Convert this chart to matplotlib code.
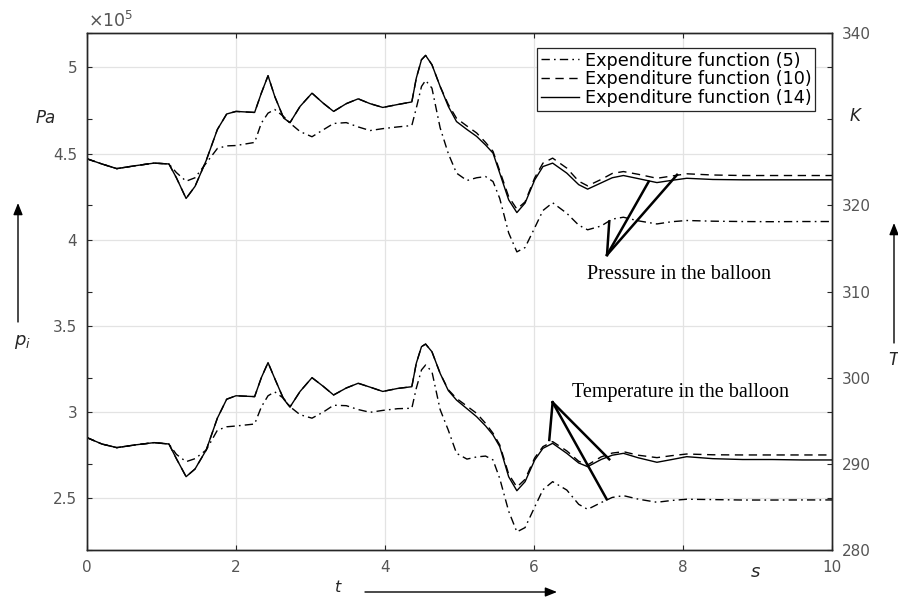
import numpy as np
import matplotlib
matplotlib.use('Agg')
from matplotlib import pyplot as plt

# time, s
t = [0, 0.2, 0.4, 0.65, 0.9, 1.1, 1.2, 1.33, 1.45, 1.6, 1.75, 1.875, 2.0, 2.25,
     2.34, 2.43, 2.52, 2.64, 2.725, 2.86, 3.02, 3.17, 3.31, 3.48, 3.64, 3.8, 3.97,
     4.17, 4.36, 4.42, 4.49, 4.545, 4.63, 4.74, 4.85, 4.96, 5.1, 5.23, 5.35, 5.45,
     5.54, 5.66, 5.77, 5.88, 6.01, 6.12, 6.25, 6.44, 6.6, 6.72, 6.9, 7.05, 7.2,
     7.4, 7.65, 7.85, 8.05, 8.4, 8.8, 9.2, 9.6, 10]

# pressure in the balloon, x1e5 Pa
p5 = [4.47, 4.44, 4.413, 4.43, 4.445, 4.44, 4.39, 4.34, 4.36, 4.445,
      4.53, 4.545, 4.547, 4.565, 4.677, 4.735, 4.756, 4.715, 4.677, 4.628,
      4.598, 4.638, 4.675, 4.68, 4.655, 4.634, 4.645, 4.655, 4.663, 4.764,
      4.89, 4.925, 4.88, 4.65, 4.5, 4.387, 4.344, 4.36, 4.367, 4.338,
      4.24, 4.04, 3.93, 3.955, 4.07, 4.17, 4.215, 4.154, 4.085, 4.058,
      4.08, 4.12, 4.131, 4.11, 4.092, 4.105, 4.112, 4.108, 4.106, 4.105,
      4.106, 4.106]
p10 = [4.47, 4.44, 4.413, 4.43, 4.445, 4.44, 4.36, 4.24, 4.31, 4.46,
       4.64, 4.73, 4.745, 4.739, 4.851, 4.952, 4.832, 4.706, 4.68, 4.774,
       4.851, 4.793, 4.745, 4.79, 4.818, 4.79, 4.768, 4.785, 4.8, 4.938,
       5.045, 5.07, 5.016, 4.89, 4.785, 4.705, 4.66, 4.62, 4.565, 4.513,
       4.4, 4.25, 4.178, 4.22, 4.36, 4.445, 4.474, 4.416, 4.34, 4.313,
       4.35, 4.385, 4.396, 4.38, 4.357, 4.37, 4.383, 4.376, 4.373, 4.373,
       4.373, 4.373]
p14 = [4.47, 4.44, 4.413, 4.43, 4.445, 4.44, 4.36, 4.24, 4.31, 4.46,
       4.64, 4.73, 4.745, 4.739, 4.851, 4.952, 4.832, 4.706, 4.68, 4.774,
       4.851, 4.793, 4.745, 4.79, 4.818, 4.79, 4.768, 4.785, 4.8, 4.938,
       5.045, 5.07, 5.016, 4.89, 4.774, 4.686, 4.64, 4.6, 4.55, 4.503,
       4.387, 4.232, 4.158, 4.213, 4.348, 4.425, 4.445, 4.387, 4.32, 4.294,
       4.33, 4.36, 4.373, 4.355, 4.332, 4.345, 4.357, 4.35, 4.348, 4.348,
       4.348, 4.348]

# temperature in the balloon, K
T5 = [293.04, 292.3, 291.88, 292.2, 292.46, 292.3, 291.1, 290.25, 290.6, 291.6,
      293.9, 294.3, 294.39, 294.62, 296.6, 297.9, 298.35, 297.6, 296.63, 295.7,
      295.3, 296.0, 296.8, 296.75, 296.3, 295.98, 296.2, 296.4, 296.45, 298.77,
      300.9, 301.47, 300.7, 296.3, 293.9, 291.22, 290.55, 290.8, 290.9, 290.45,
      288.3, 284.5, 282.1, 282.6, 285.0, 287.0, 287.93, 286.96, 285.3, 284.72,
      285.5, 286.1, 286.31, 285.9, 285.54, 285.75, 285.89, 285.85, 285.8, 285.8,
      285.81, 285.81]
T10 = [293.04, 292.3, 291.88, 292.2, 292.46, 292.3, 290.6, 288.51, 289.4, 291.6,
       295.3, 297.5, 297.9, 297.8, 300.0, 301.75, 299.9, 297.5, 296.6, 298.4,
       300.0, 299.0, 297.99, 298.8, 299.35, 298.9, 298.4, 298.75, 298.95, 301.67,
       303.6, 303.9, 303.01, 300.5, 298.6, 297.59, 296.7, 295.86, 294.7, 293.55,
       292.2, 288.8, 287.3, 288.2, 290.7, 292.0, 292.58, 291.5, 290.3, 289.87,
       290.8, 291.25, 291.41, 291.0, 290.72, 290.95, 291.14, 291.05, 291.03, 291.03,
       291.03, 291.03]
T14 = [293.04, 292.3, 291.88, 292.2, 292.46, 292.3, 290.6, 288.51, 289.4, 291.6,
       295.3, 297.5, 297.9, 297.8, 300.0, 301.75, 299.9, 297.5, 296.6, 298.4,
       300.0, 299.0, 297.99, 298.8, 299.35, 298.9, 298.4, 298.75, 298.95, 301.67,
       303.6, 303.9, 303.01, 300.5, 298.5, 297.4, 296.4, 295.47, 294.4, 293.35,
       292.0, 288.5, 286.88, 287.93, 290.45, 291.8, 292.38, 291.22, 290.1, 289.67,
       290.5, 291.0, 291.22, 290.7, 290.18, 290.5, 290.83, 290.6, 290.5, 290.5,
       290.45, 290.45]

labels = ['Expenditure function (5)', 'Expenditure function (10)',
          'Expenditure function (14)']
p_ticks = [2.5, 3, 3.5, 4, 4.5, 5]
T_ticks = [280, 290, 300, 310, 320, 330, 340]
T_ticklabels = ['280', '290', '300', '310', '320', '', '340']
x_ticks = [0, 2, 4, 6, 8, 10]

# pointer lines: (from, to) in data units
p_pointer = [((6.98, 3.912), (7.01, 4.106)),
             ((6.98, 3.912), (7.54, 4.338)),
             ((6.98, 3.912), (7.92, 4.377))]
T_pointer = [((6.25, 297.14), (6.205, 292.77)),
             ((6.25, 297.14), (7.01, 290.53)),
             ((6.25, 297.14), (6.976, 285.89))]

W, H = 898, 597
tick_col = '#555555'
axis_col = '#262626'

fig = plt.figure(figsize=(W / 100, H / 100), dpi=100)
ax = fig.add_axes([87 / W, 1 - 550 / H, 745 / W, 517 / H])
ax2 = ax.twinx()

styles = [(0, (6, 3, 1.2, 3)), (0, (6, 4)), '-']
lines = []
for pv, st in zip([p5, p10, p14], styles):
    ln, = ax.plot(t, pv, color='black', linestyle=st, linewidth=1.0)
    lines.append(ln)
for Tv, st in zip([T5, T10, T14], styles):
    ax2.plot(t, Tv, color='black', linestyle=st, linewidth=1.0)

ax.set_xlim(0, 10)
ax.set_ylim(2.2, 5.2)
ax2.set_ylim(280, 340)
ax.set_xticks(x_ticks)
ax.set_xticklabels(['%g' % v for v in x_ticks])
ax.set_yticks(p_ticks)
ax.set_yticklabels(['%g' % v for v in p_ticks])
ax2.set_yticks(T_ticks)
ax2.set_yticklabels(T_ticklabels)

ax.grid(True, color='#e3e3e3', linewidth=0.9)
ax.set_axisbelow(True)
ax.tick_params(direction='in', length=3.5, width=0.8, color=axis_col,
               labelcolor=tick_col, labelsize=11, right=True, top=True, pad=7)
ax2.tick_params(direction='in', length=3.5, width=0.8, color=axis_col,
                labelcolor=tick_col, labelsize=11, left=True, pad=7)
for a in (ax, ax2):
    for sp in a.spines.values():
        sp.set_color(axis_col)
        sp.set_linewidth(1.0)

leg = ax2.legend(lines, labels, loc='upper right', bbox_to_anchor=(0.977, 0.971),
                 borderaxespad=0, fontsize=12.7, handlelength=2.2,
                 handletextpad=0.3, labelspacing=0.05, borderpad=0.2,
                 fancybox=False, framealpha=1, edgecolor=axis_col)
leg.get_frame().set_linewidth(0.9)

# annotations with pointer lines
for (x0, y0), (x1, y1) in p_pointer:
    ax.plot([x0, x1], [y0, y1], color='black', linewidth=1.8)
for (x0, y0), (x1, y1) in T_pointer:
    ax2.plot([x0, x1], [y0, y1], color='black', linewidth=1.8)
ax.text(7.946, 3.771, 'Pressure in the balloon', family='Liberation Serif',
        fontsize=14.5, ha='center', va='baseline', color='black')
ax.text(7.96, 3.089, 'Temperature in the balloon', family='Liberation Serif',
        fontsize=14.5, ha='center', va='baseline', color='black')

# axis labels and arrows outside the axes
def fx(px):
    return px / W

def fy(py):
    return 1 - py / H

fig.text(fx(88), fy(21), r'$\times10^{5}$', color=tick_col, fontsize=12.5,
         ha='left', va='center')
fig.text(fx(46), fy(118), 'Pa', style='italic', color=axis_col, fontsize=12,
         ha='center', va='center')
fig.text(fx(855), fy(116), 'K', style='italic', color=axis_col, fontsize=12,
         ha='center', va='center')
fig.text(fx(22), fy(342), r'$p_i$', color=axis_col, fontsize=13,
         ha='center', va='center')
fig.text(fx(893), fy(360), 'T', style='italic', color=axis_col, fontsize=12,
         ha='center', va='center')
fig.text(fx(338), fy(587), 't', style='italic', color=axis_col, fontsize=11.5,
         ha='center', va='center')
fig.text(fx(755), fy(572), 's', style='italic', color=axis_col, fontsize=13,
         ha='center', va='center')

arrow = dict(arrowstyle='-|>,head_length=0.5,head_width=0.2', color='black',
             linewidth=1.0, mutation_scale=14, shrinkA=0, shrinkB=0)
fig.add_artist(matplotlib.patches.FancyArrowPatch(
    (fx(18), fy(322)), (fx(18), fy(203)), transform=fig.transFigure, **arrow))
fig.add_artist(matplotlib.patches.FancyArrowPatch(
    (fx(894), fy(343)), (fx(894), fy(223)), transform=fig.transFigure, **arrow))
fig.add_artist(matplotlib.patches.FancyArrowPatch(
    (fx(365), fy(592)), (fx(557), fy(592)), transform=fig.transFigure, **arrow))

fig.savefig('out.png', dpi=100)
